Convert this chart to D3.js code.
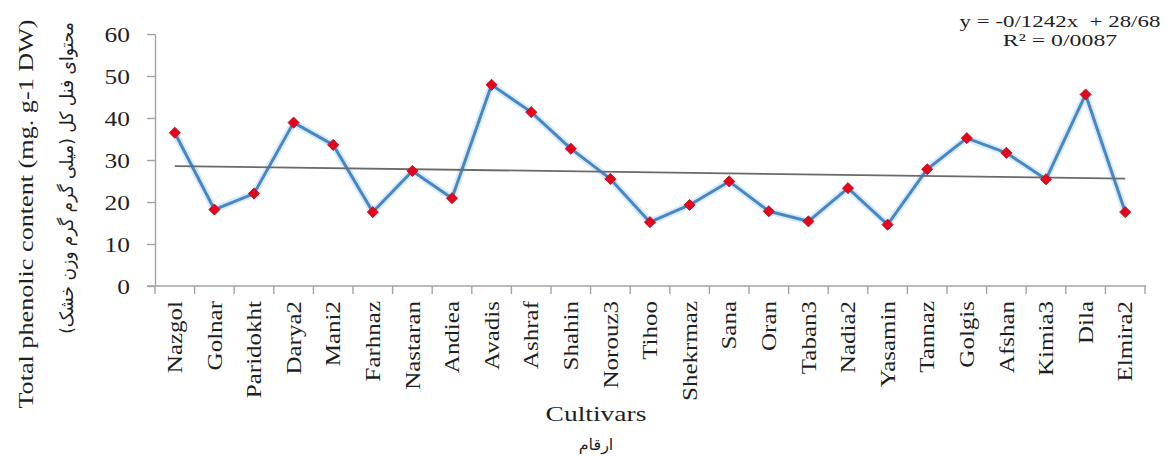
<!DOCTYPE html>
<html>
<head>
<meta charset="utf-8">
<script src="https://cdn.jsdelivr.net/npm/d3@7"></script>
<style>
  html, body { margin: 0; padding: 0; background: #fff; }
  svg { display: block; }
  .serif { font-family: "Liberation Serif", "Times New Roman", serif; fill: #1f1f1f; }
  .fa { font-family: "DejaVu Sans", sans-serif; fill: #1f1f1f; }
</style>
</head>
<body>
<script>
// Total phenolic content per cultivar
const cultivars = ["Nazgol", "Golnar", "Paridokht", "Darya2", "Mani2", "Farhnaz", "Nastaran",
  "Andiea", "Avadis", "Ashraf", "Shahin", "Norouz3", "Tihoo", "Shekrmaz", "Sana", "Oran",
  "Taban3", "Nadia2", "Yasamin", "Tannaz", "Golgis", "Afshan", "Kimia3", "Dila", "Elmira2"];
const phenolic = [36.5, 18.2, 22.0, 38.9, 33.6, 17.6, 27.4, 20.9, 47.9, 41.4, 32.7, 25.5,
  15.2, 19.3, 24.9, 17.8, 15.4, 23.3, 14.6, 27.8, 35.2, 31.7, 25.4, 45.6, 17.6];
const yTicks = [0, 10, 20, 30, 40, 50, 60];

// Linear trend fitted over cultivar order (1..n)
const trendSlope = -0.1242;
const trendIntercept = 28.68;
const equationLines = ["y = -0/1242x  + 28/68", "R\u00B2 = 0/0087"];

const yTitle = "Total phenolic content (mg. g-1 DW)";
const yTitleFa = "محتوای فنل کل (میلی گرم گرم وزن خشک)";
const xTitle = "Cultivars";
const xTitleFa = "ارقام";

const W = 1166, H = 457;
const STRETCH = 1.21;   // serif glyphs are drawn slightly wide
const axisColor = "#a3a3a3";

const svg = d3.select("body").append("svg").attr("width", W).attr("height", H);

const x = d3.scaleBand().domain(cultivars).range([155, 1145]);
const y = d3.scaleLinear().domain([0, 60]).range([286, 34]);
const cx = d => x(d) + x.bandwidth() / 2;

// ---- y axis ----
const gy = svg.append("g").attr("transform", `translate(${x.range()[0]},0)`)
  .call(d3.axisLeft(y).tickValues(yTicks).tickSize(8).tickSizeOuter(0));
gy.select(".domain").attr("stroke", axisColor).attr("stroke-width", 1.4);
gy.selectAll(".tick line").attr("stroke", axisColor).attr("stroke-width", 1.4);
gy.selectAll(".tick text")
  .attr("class", "serif")
  .attr("x", null).attr("dy", "0.36em")
  .attr("transform", `translate(-25,0) scale(${STRETCH},1)`)
  .style("font-size", "21px").attr("fill", "#1f1f1f")
  .attr("font-family", null);

// ---- x axis: baseline and category boundary ticks ----
const gx = svg.append("g").attr("transform", `translate(0,${y(0)})`);
gx.append("line")
  .attr("x1", x.range()[0] - 8).attr("x2", x.range()[1] + 1)
  .attr("stroke", axisColor).attr("stroke-width", 1.4);
gx.selectAll("line.bound")
  .data(d3.range(cultivars.length + 1))
  .join("line").attr("class", "bound")
  .attr("x1", i => x.range()[0] + i * x.step())
  .attr("x2", i => x.range()[0] + i * x.step())
  .attr("y1", 0).attr("y2", 8)
  .attr("stroke", axisColor).attr("stroke-width", 1.4);

// category labels, vertical
svg.append("g").selectAll("text")
  .data(cultivars)
  .join("text")
  .attr("class", "serif")
  .attr("text-anchor", "end")
  .attr("dy", "0.34em")
  .attr("transform", d => `translate(${cx(d)},301) rotate(-90) scale(1.19,1)`)
  .style("font-size", "21px")
  .text(d => d);

// ---- series line ----
const line = d3.line().x((d, i) => cx(cultivars[i])).y(d => y(d));
svg.append("path").datum(phenolic)
  .attr("fill", "none").attr("stroke", "#cfe6f7").attr("stroke-width", 7)
  .attr("stroke-linejoin", "round").attr("opacity", 0.8)
  .attr("d", line);
svg.append("path").datum(phenolic)
  .attr("fill", "none").attr("stroke", "#4788c4").attr("stroke-width", 3)
  .attr("stroke-linejoin", "round")
  .attr("d", line);

// ---- trend line ----
const n = cultivars.length;
const trend = [1, n].map(k => ({ k, v: trendIntercept + trendSlope * k }));
svg.append("line")
  .attr("x1", cx(cultivars[trend[0].k - 1])).attr("y1", y(trend[0].v))
  .attr("x2", cx(cultivars[trend[1].k - 1])).attr("y2", y(trend[1].v))
  .attr("stroke", "#6a6a6a").attr("stroke-width", 1.8);

// ---- markers ----
const diamond = d3.symbol(d3.symbolSquare, 62);
svg.append("g").selectAll("path")
  .data(phenolic)
  .join("path")
  .attr("d", diamond)
  .attr("transform", (d, i) => `translate(${cx(cultivars[i])},${y(d)}) rotate(45)`)
  .attr("fill", "#e3061c").attr("stroke", "#b8101e").attr("stroke-width", 0.8);

// ---- trend equation ----
svg.append("g").selectAll("text")
  .data(equationLines)
  .join("text")
  .attr("class", "serif")
  .attr("text-anchor", "middle")
  .style("font-size", "17.5px").style("white-space", "pre")
  .attr("transform", (d, i) => `translate(1060,${26.5 + i * 19.5}) scale(${i ? 1.36 : 1.31},1)`)
  .text(d => d);

// ---- axis titles ----
svg.append("text")
  .attr("class", "serif")
  .attr("text-anchor", "middle")
  .style("font-size", "22px")
  .attr("transform", `translate(33,214) rotate(-90) scale(1.19,1)`)
  .text(yTitle);

const fa = svg.append("text")
  .attr("class", "fa")
  .attr("direction", "rtl")
  .attr("text-anchor", "middle")
  .attr("dy", "0.35em")
  .style("font-size", "18.5px")
  .text(yTitleFa);
const faLen = fa.node().getComputedTextLength();
fa.attr("transform", `translate(67,178) rotate(-90) scale(${312 / faLen},1)`);

svg.append("text")
  .attr("class", "serif")
  .attr("text-anchor", "middle")
  .style("font-size", "22px")
  .attr("transform", `translate(596,421) scale(1.25,1)`)
  .text(xTitle);

svg.append("text")
  .attr("class", "fa")
  .attr("direction", "rtl")
  .attr("text-anchor", "middle")
  .style("font-size", "16px")
  .attr("transform", `translate(596,450)`)
  .text(xTitleFa);
</script>
</body>
</html>
